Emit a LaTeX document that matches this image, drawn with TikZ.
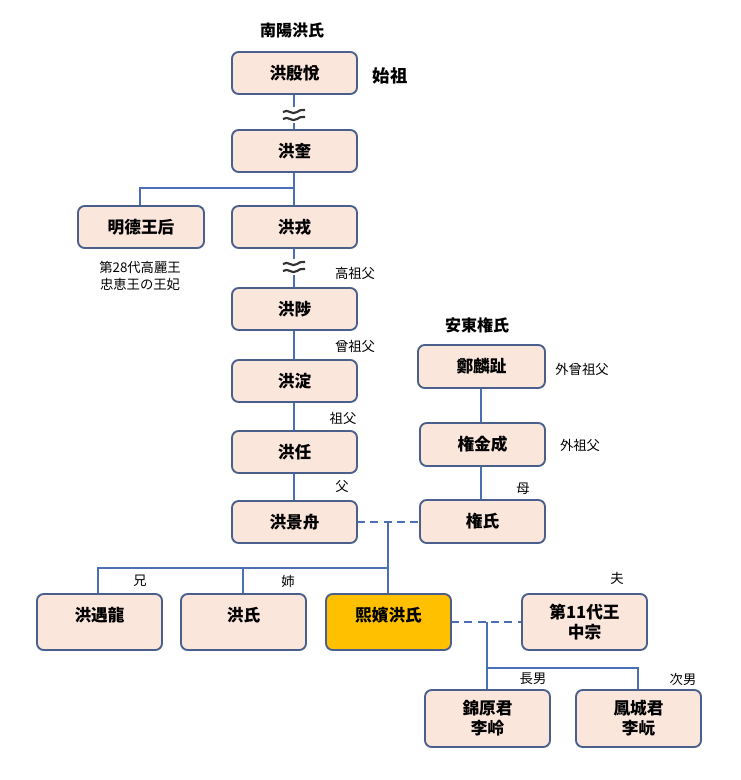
\documentclass[tikz,border=0pt]{standalone}
\usepackage{fontspec}
\setmainfont{Noto Sans CJK JP}
\begin{document}
\begin{tikzpicture}[x=0.75pt,y=-0.75pt,
  box/.style={draw=boxline,line width=1.4pt,fill=boxfill,rounded corners=5pt,font=\bfseries\fontsize{12.5}{15}\selectfont,align=center},
  lab/.style={font=\fontsize{10}{13}\selectfont,align=center},
  big/.style={font=\bfseries\fontsize{12}{14}\selectfont},
  ln/.style={draw=linec,line width=1.8pt},
  dl/.style={ln,dash pattern=on 6pt off 4pt}]
\definecolor{boxline}{HTML}{4A5F8C}
\definecolor{boxfill}{HTML}{FBE6DC}
\definecolor{linec}{HTML}{4A6FB5}
\definecolor{orng}{HTML}{FFC000}
\useasboundingbox (0,0) rectangle (740,780);
\newcommand{\bx}[6]{\path[box,#6] (#2,#3) rectangle (#4,#5);}
% lines first
\coordinate (a1) at (294,94); \coordinate (a2) at (294,130);
\draw[ln] (a1) -- (a2);
\coordinate (b1) at (294,172); \coordinate (b2) at (294,206);
\coordinate (b3) at (140,188); \coordinate (b4) at (140,206);
\draw[ln] (b1) -- (b2); \draw[ln] (294,188) -- (b3) -- (b4);
\coordinate (c1) at (294,248); \coordinate (c2) at (294,288);
\draw[ln] (c1) -- (c2);
\draw[ln] (294,330) -- (294,360);
\draw[ln] (294,402) -- (294,431);
\draw[ln] (294,473) -- (294,501);
\draw[ln] (481,388) -- (481,423);
\draw[ln] (481,466) -- (481,500);
\draw[dl] (357,522) -- (420,522);
\draw[ln] (388,522) -- (388,594);
\draw[ln] (388,568) -- (98,568) -- (98,594);
\draw[ln] (243,568) -- (243,594);
\draw[dl] (451,622) -- (522,622);
\draw[ln] (487,622) -- (487,690);
\draw[ln] (487,668) -- (638,668) -- (638,690);
% breaks
\foreach \y in {115,267}{
 \fill[white] (284,\y-8) rectangle (304,\y+8);
 \draw[line width=1.6pt,black!80] (283,\y-3) .. controls (288,\y-7) and (292,\y+1) .. (297,\y-3) .. controls (300,\y-5) .. (305,\y-5);
 \draw[line width=1.6pt,black!80] (283,\y+4) .. controls (288,\y) and (292,\y+8) .. (297,\y+4) .. controls (300,\y+2) .. (305,\y+2);
}
% boxes
\node[box,minimum width=125*0.75pt,minimum height=42*0.75pt] (n1) at (294.5,73) {洪殷悅};
\node[box,minimum width=125*0.75pt,minimum height=42*0.75pt] (n2) at (294.5,151) {洪奎};
\node[box,minimum width=126*0.75pt,minimum height=42*0.75pt] (n3) at (141,227) {明德王后};
\node[box,minimum width=125*0.75pt,minimum height=42*0.75pt] (n4) at (294.5,227) {洪戎};
\node[box,minimum width=125*0.75pt,minimum height=42*0.75pt] (n5) at (294.5,309) {洪陟};
\node[box,minimum width=125*0.75pt,minimum height=42*0.75pt] (n6) at (294.5,381) {洪淀};
\node[box,minimum width=125*0.75pt,minimum height=42*0.75pt] (n7) at (294.5,452) {洪任};
\node[box,minimum width=125*0.75pt,minimum height=42*0.75pt] (n8) at (294.5,522) {洪景舟};
\node[box,minimum width=127*0.75pt,minimum height=43*0.75pt] (m1) at (481.5,366.5) {鄭麟趾};
\node[box,minimum width=125*0.75pt,minimum height=43*0.75pt] (m2) at (482.5,444.5) {権金成};
\node[box,minimum width=125*0.75pt,minimum height=43*0.75pt] (m3) at (482.5,521.5) {権氏};
\node[box,minimum width=125*0.75pt,minimum height=56*0.75pt,text depth=12pt] (s1) at (99.5,622) {洪遇龍};
\node[box,minimum width=125*0.75pt,minimum height=56*0.75pt,text depth=12pt] (s2) at (243.5,622) {洪氏};
\node[box,fill=orng,minimum width=125*0.75pt,minimum height=56*0.75pt,text depth=12pt] (s3) at (388.5,622) {熙嬪洪氏};
\node[box,minimum width=125*0.75pt,minimum height=56*0.75pt] (s4) at (584.5,622) {第11代王\\中宗};
\node[box,minimum width=125*0.75pt,minimum height=57*0.75pt] (k1) at (487.5,718.5) {錦原君\\李岭};
\node[box,minimum width=125*0.75pt,minimum height=57*0.75pt] (k2) at (638.5,718.5) {鳳城君\\李岏};
% labels
\node[big] (t1) at (292,30) {南陽洪氏};
\node[big,font=\bfseries\fontsize{13}{15}\selectfont] (t2) at (390,76) {始祖};
\node[big] (t3) at (477,325) {安東権氏};
\node[lab] (l1) at (140,276) {第28代高麗王\\忠恵王の王妃};
\node[lab] (l2) at (355,273) {高祖父};
\node[lab] (l3) at (355,346) {曾祖父};
\node[lab] (l4) at (343,418) {祖父};
\node[lab] (l5) at (342,487) {父};
\node[lab] (l6) at (582,369) {外曾祖父};
\node[lab] (l7) at (580,445) {外祖父};
\node[lab] (l8) at (523,489) {母};
\node[lab] (l9) at (140,581) {兄};
\node[lab] (l10) at (288,581) {姉};
\node[lab] (l11) at (617,578) {夫};
\node[lab] (l12) at (533,679) {長男};
\node[lab] (l13) at (683,679) {次男};
\end{tikzpicture}
\end{document}
